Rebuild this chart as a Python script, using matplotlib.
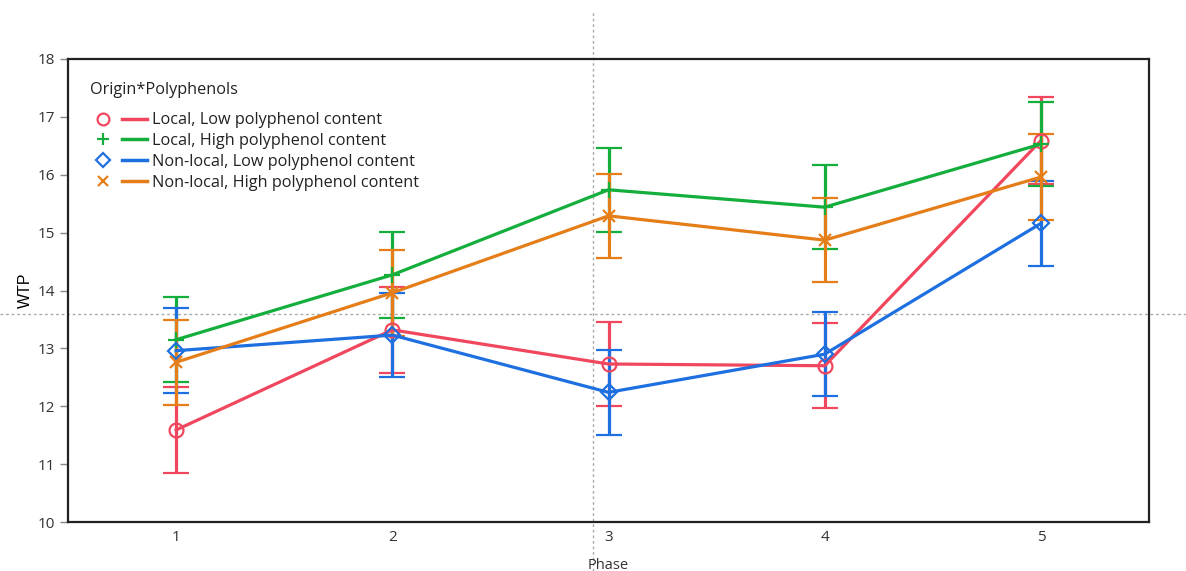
import matplotlib
matplotlib.use("Agg")
import matplotlib.pyplot as plt
import matplotlib.transforms as mtransforms
from matplotlib.lines import Line2D
from matplotlib.legend_handler import HandlerTuple

# Estimated marginal means of WTP by phase
phases = [1, 2, 3, 4, 5]
series_names = [
    "Local, Low polyphenol content",
    "Local, High polyphenol content",
    "Non-local, Low polyphenol content",
    "Non-local, High polyphenol content",
]
local_low = [11.59, 13.32, 12.73, 12.70, 16.59]
local_high = [13.15, 14.27, 15.74, 15.44, 16.53]
nonlocal_low = [12.96, 13.23, 12.24, 12.90, 15.16]
nonlocal_high = [12.76, 13.96, 15.29, 14.87, 15.96]

# half-width of the error bars
local_low_err = [0.74, 0.74, 0.73, 0.73, 0.75]
local_high_err = [0.73, 0.74, 0.73, 0.73, 0.73]
nonlocal_low_err = [0.73, 0.73, 0.73, 0.73, 0.73]
nonlocal_high_err = [0.73, 0.74, 0.73, 0.73, 0.74]

# crosshair position (data coords)
cross_x = 2.926
cross_y = 13.59

means = [local_low, local_high, nonlocal_low, nonlocal_high]
errs = [local_low_err, local_high_err, nonlocal_low_err, nonlocal_high_err]
colors = ["#F0475E", "#14AE3C", "#1E6FE0", "#E57E18"]
markers = ["o", "+", "D", "x"]
msizes = [10, 11, 8, 9]

plt.rcParams["font.family"] = ["Open Sans", "DejaVu Sans"]

fig = plt.figure(figsize=(11.86, 5.71), dpi=100)
ax = fig.add_axes([68 / 1186, 49 / 571, 1081 / 1186, 463 / 571])

for m, e, c, mk, ms in zip(means, errs, colors, markers, msizes):
    ax.errorbar(phases, m, yerr=e, color=c, lw=2.3, capsize=9.5, capthick=2.3,
                marker=mk, markersize=ms, markerfacecolor="none",
                markeredgecolor=c, markeredgewidth=1.6)

ax.set_xlim(0.5, 5.5)
ax.set_ylim(10, 18)
ax.set_xticks(phases)
ax.set_yticks(range(10, 19))
ax.tick_params(axis="x", length=0, pad=6, labelsize=11, labelcolor="#333333")
ax.tick_params(axis="y", length=6, width=1, color="#888888", direction="out",
               labelsize=11, labelcolor="#333333")
for sp in ax.spines.values():
    sp.set_linewidth(1.6)
    sp.set_color("#222222")

ax.set_xlabel("Phase", fontsize=10.5, color="#333333", labelpad=9)
ax.set_ylabel("WTP", fontsize=11.5, family=["Liberation Sans"], labelpad=3)

# crosshair lines
vtr = mtransforms.blended_transform_factory(ax.transData, fig.transFigure)
htr = mtransforms.blended_transform_factory(fig.transFigure, ax.transData)
ax.add_line(Line2D([cross_x, cross_x], [0, 561 / 571], transform=vtr, clip_on=False,
                   color="#aaaaaa", lw=1, ls=(0, (2, 2)), zorder=0))
ax.add_line(Line2D([0, 1], [cross_y, cross_y], transform=htr, clip_on=False,
                   color="#aaaaaa", lw=1, ls=(0, (2, 2)), zorder=0))

handles = []
for c, mk, ms in zip(colors, markers, msizes):
    mh = Line2D([], [], ls="none", marker=mk, markersize=ms * 0.85,
                markerfacecolor="none", markeredgecolor=c, markeredgewidth=1.6)
    lh = Line2D([], [], color=c, lw=2.5)
    handles.append((mh, lh))

leg = ax.legend(handles, series_names, handler_map={tuple: HandlerTuple(ndivide=None, pad=0.4)},
                title="Origin*Polyphenols", loc="upper left",
                bbox_to_anchor=(0.013, 0.967), frameon=False, fontsize=11.7,
                title_fontsize=11.7, handlelength=3.5, handletextpad=0.3,
                labelspacing=0.3, borderpad=0, alignment="left")
leg.get_title().set_color("#222222")
for t in leg.get_texts():
    t.set_color("#222222")
leg._legend_box.sep = 10

fig.savefig("out.png", dpi=100, facecolor="white")
